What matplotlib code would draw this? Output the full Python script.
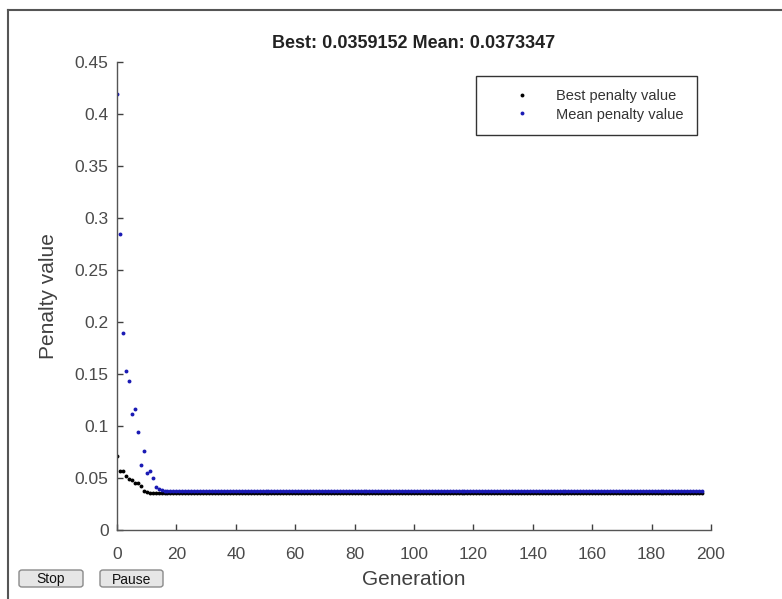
import matplotlib
matplotlib.use('Agg')

import matplotlib.pyplot as plt
import numpy as np
from matplotlib.patches import FancyBboxPatch
from matplotlib.lines import Line2D

plt.rcParams['font.family'] = ['Liberation Sans', 'DejaVu Sans']

# mean penalty per generation (gen 0..197)
mean_penalty = [
	0.4190, 0.2846, 0.1897, 0.1529, 0.1436, 0.1118, 0.1163, 0.0939, 0.0628, 0.0763,
	0.0545, 0.0567, 0.0497, 0.0417, 0.0392,
	0.0381, 0.0378, 0.0376, 0.0377, 0.0375, 0.0376, 0.0374, 0.0377, 0.0375, 0.0374,
	0.0376, 0.0373, 0.0375, 0.0377, 0.0374, 0.0376, 0.0375, 0.0373, 0.0376, 0.0374,
	0.0375, 0.0377, 0.0374, 0.0373, 0.0376, 0.0375, 0.0374, 0.0377, 0.0375, 0.0373,
	0.0376, 0.0374, 0.0375, 0.0378, 0.0374, 0.0373, 0.0376, 0.0375, 0.0374, 0.0376,
	0.0373, 0.0375, 0.0377, 0.0374, 0.0376, 0.0375, 0.0373, 0.0374, 0.0376, 0.0375,
	0.0374, 0.0377, 0.0375, 0.0373, 0.0376, 0.0374, 0.0375, 0.0377, 0.0374, 0.0373,
	0.0375, 0.0376, 0.0374, 0.0375, 0.0377, 0.0373, 0.0374, 0.0376, 0.0375, 0.0374,
	0.0376, 0.0375, 0.0373, 0.0374, 0.0377, 0.0375, 0.0374, 0.0376, 0.0373, 0.0375,
	0.0374, 0.0376, 0.0375, 0.0373, 0.0374, 0.0377, 0.0375, 0.0374, 0.0376, 0.0375,
	0.0373, 0.0375, 0.0376, 0.0374, 0.0375, 0.0377, 0.0373, 0.0374, 0.0376, 0.0375,
	0.0374, 0.0373, 0.0376, 0.0375, 0.0374, 0.0377, 0.0375, 0.0373, 0.0374, 0.0376,
	0.0375, 0.0374, 0.0377, 0.0373, 0.0375, 0.0376, 0.0374, 0.0375, 0.0373, 0.0376,
	0.0374, 0.0375, 0.0377, 0.0376, 0.0373, 0.0374, 0.0375, 0.0377, 0.0374, 0.0376,
	0.0378, 0.0375, 0.0379, 0.0374, 0.0376, 0.0378, 0.0375, 0.0374, 0.0377, 0.0375,
	0.0374, 0.0376, 0.0373, 0.0375, 0.0374, 0.0376, 0.0375, 0.0373, 0.0374, 0.0375,
	0.0376, 0.0374, 0.0375, 0.0373, 0.0374, 0.0376, 0.0375, 0.0374, 0.0373, 0.0375,
	0.0374, 0.0375, 0.0373, 0.0376, 0.0374, 0.0375, 0.0374, 0.0373, 0.0375, 0.0374,
	0.0373, 0.0374, 0.0375, 0.0374, 0.0373, 0.0375, 0.0374, 0.0373, 0.0374, 0.0373,
	0.0374, 0.0373, 0.03733,
]

# best penalty per generation (gen 0..197)
best_penalty = [
	0.0708, 0.0570, 0.0570, 0.0518, 0.0490, 0.0480, 0.0456, 0.0449, 0.0426, 0.0378,
	0.0362, 0.0360,
	0.03598, 0.03598, 0.03598, 0.03598, 0.03598, 0.03598, 0.03598, 0.03598, 0.03598, 0.03598,
	0.03595, 0.03595, 0.03595, 0.03595, 0.03595, 0.03595, 0.03595, 0.03595, 0.03595, 0.03595,
	0.03595, 0.03595, 0.03595, 0.03595, 0.03595, 0.03595, 0.03595, 0.03595, 0.03595, 0.03595,
	0.03593, 0.03593, 0.03593, 0.03593, 0.03593, 0.03593, 0.03593, 0.03593, 0.03593, 0.03593,
	0.03593, 0.03593, 0.03593, 0.03593, 0.03593, 0.03593, 0.03593, 0.03593, 0.03593, 0.03593,
	0.03592, 0.03592, 0.03592, 0.03592, 0.03592, 0.03592, 0.03592, 0.03592, 0.03592, 0.03592,
	0.03592, 0.03592, 0.03592, 0.03592, 0.03592, 0.03592, 0.03592, 0.03592, 0.03592, 0.03592,
	0.03592, 0.03592, 0.03592, 0.03592, 0.03592, 0.03592, 0.03592, 0.03592, 0.03592, 0.03592,
	0.035915, 0.035915, 0.035915, 0.035915, 0.035915, 0.035915, 0.035915, 0.035915, 0.035915, 0.035915,
	0.035915, 0.035915, 0.035915, 0.035915, 0.035915, 0.035915, 0.035915, 0.035915, 0.035915, 0.035915,
	0.035915, 0.035915, 0.035915, 0.035915, 0.035915, 0.035915, 0.035915, 0.035915, 0.035915, 0.035915,
	0.035915, 0.035915, 0.035915, 0.035915, 0.035915, 0.035915, 0.035915, 0.035915, 0.035915, 0.035915,
	0.035915, 0.035915, 0.035915, 0.035915, 0.035915, 0.035915, 0.035915, 0.035915, 0.035915, 0.035915,
	0.035915, 0.035915, 0.035915, 0.035915, 0.035915, 0.035915, 0.035915, 0.035915, 0.035915, 0.035915,
	0.035915, 0.035915, 0.035915, 0.035915, 0.035915, 0.035915, 0.035915, 0.035915, 0.035915, 0.035915,
	0.035915, 0.035915, 0.035915, 0.035915, 0.035915, 0.035915, 0.035915, 0.035915, 0.035915, 0.035915,
	0.035915, 0.035915, 0.035915, 0.035915, 0.035915, 0.035915, 0.035915, 0.035915, 0.035915, 0.035915,
	0.035915, 0.035915, 0.035915, 0.035915, 0.035915, 0.035915, 0.035915, 0.035915, 0.035915, 0.035915,
	0.035915, 0.035915, 0.035915, 0.035915, 0.035915, 0.035915,
]

generations = np.arange(len(mean_penalty))
best_gens = np.arange(len(best_penalty))

title_text = "Best: 0.0359152 Mean: 0.0373347"
labels = ["Best penalty value", "Mean penalty value"]
x_ticks = [0, 20, 40, 60, 80, 100, 120, 140, 160, 180, 200]
y_ticks = [0, 0.05, 0.1, 0.15, 0.2, 0.25, 0.3, 0.35, 0.4, 0.45]

fig = plt.figure(figsize=(7.82, 5.99), dpi=100)
ax = fig.add_axes([117/782, 1-530/599, (711-117)/782, (530-62)/599])

ax.plot(best_gens, best_penalty, linestyle='none', marker='o', ms=2.8, mew=0,
	color='black', label=labels[0])
ax.plot(generations, mean_penalty, linestyle='none', marker='o', ms=2.8, mew=0,
	color='#1a1ab4', label=labels[1])

ax.set_xlim(0, 200)
ax.set_ylim(0, 0.45)
ax.set_xticks(x_ticks)
ax.set_yticks(y_ticks)
ax.set_yticklabels([f"{v:g}" for v in y_ticks])

for s in ['top', 'right']:
	ax.spines[s].set_visible(False)
for s in ['left', 'bottom']:
	ax.spines[s].set_color('#555555')
	ax.spines[s].set_linewidth(1.0)
ax.tick_params(direction='in', length=4, width=1, color='#404040',
	labelcolor='#4a4a4a', labelsize=12.5)
ax.tick_params(axis='y', pad=6)
ax.tick_params(axis='x', pad=12)

ax.set_title(title_text, fontsize=13, fontweight='bold', color='#222222', pad=10)
ax.set_xlabel("Generation", fontsize=15, color='#404040', labelpad=6)
ax.set_ylabel("Penalty value", fontsize=15, color='#404040', labelpad=12)

leg = ax.legend(loc='upper right', bbox_to_anchor=(697/782, 1-76/599),
	bbox_transform=fig.transFigure, fancybox=False, framealpha=1,
	edgecolor='#333333', fontsize=10.5, handlelength=4.5, handletextpad=0.1,
	borderpad=0.9, borderaxespad=0, labelspacing=0.3, markerscale=1.0)
leg.get_frame().set_linewidth(1.0)
for t in leg.get_texts():
	t.set_color('#333333')

# window frame lines
fig.add_artist(Line2D([8/782, 1], [1-10/599, 1-10/599], color='#555555', lw=1.5))
fig.add_artist(Line2D([8/782, 8/782], [0, 1-10/599], color='#555555', lw=1.5))

# GUI buttons
for name, x0, x1 in [("Stop", 19, 83), ("Pause", 100, 163)]:
	btn = FancyBboxPatch((x0/782, 12/599), (x1-x0)/782, 17/599,
		boxstyle='round,pad=0,rounding_size=0.004', transform=fig.transFigure,
		facecolor='#e6e6e6', edgecolor='#8a8a8a', lw=1)
	fig.add_artist(btn)
	fig.text((x0+x1)/2/782, 19.5/599, name, ha='center', va='center',
		fontsize=10, color='#111111')

fig.savefig('out.png', dpi=100)
